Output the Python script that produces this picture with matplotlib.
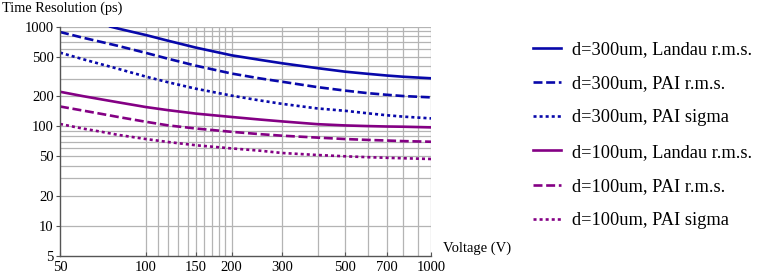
import matplotlib
matplotlib.use("Agg")
import matplotlib.pyplot as plt
from matplotlib.ticker import FixedLocator, NullLocator, NullFormatter

plt.rcParams['font.family'] = ['Liberation Serif', 'DejaVu Serif']

# Voltage values (V)
voltage = [50, 60, 70, 80, 100, 120, 150, 200, 250, 300, 400, 500, 600, 700, 800, 1000]
voltage_d300_landau = [75, 80, 100, 120, 150, 200, 250, 300, 400, 500, 600, 700, 800, 1000]

# Time resolution (ps)
d300_landau = [1000, 955, 823, 720, 615, 515, 465, 429, 383, 353, 336, 323, 314, 303]
d300_pai_rms = [883, 775, 700, 640, 545, 475, 405, 338, 303, 280, 247, 228, 215, 207, 201, 195]
d300_pai_sigma = [548, 472, 418, 377, 315, 276, 238, 203, 182, 168, 151, 143, 135, 129, 125, 120]
d100_landau = [222, 201, 186, 174, 156, 145, 134, 124, 117, 112, 105, 102, 100.5, 99.5, 99, 97.5]
d100_pai_rms = [158, 144, 133, 124, 111, 102, 95, 88, 83.5, 80.5, 77, 74.5, 73, 72, 71, 70]
d100_pai_sigma = [105.5, 95, 88, 82, 74.5, 69.5, 64.5, 60, 57, 54, 51.5, 50, 49, 48.3, 47.8, 47]

labels = ["d=300um, Landau r.m.s.", "d=300um, PAI r.m.s.", "d=300um, PAI sigma",
          "d=100um, Landau r.m.s.", "d=100um, PAI r.m.s.", "d=100um, PAI sigma"]

x_ticks = [50, 100, 150, 200, 300, 500, 700, 1000]
y_ticks = [5, 10, 20, 50, 100, 200, 500, 1000]

blue = '#0808aa'
purple = '#840084'
dash = (0, (3.4, 1.4))
dot = (0, (1.15, 1.15))

fig = plt.figure(figsize=(7.63, 2.77), dpi=100)
ax = fig.add_axes([60 / 763, 1 - 256 / 277, (431 - 60) / 763, (256 - 26.6) / 277])
ax.set_xscale('log')
ax.set_yscale('log')
ax.set_xlim(50, 1000)
ax.set_ylim(5, 1000)

# grid
vgrid = list(range(100, 200, 10)) + list(range(200, 1001, 100))
hgrid = list(range(10, 100, 10)) + list(range(100, 1001, 100))
for v in vgrid:
    ax.axvline(v, color='#b4b4b4', lw=0.9, zorder=0)
for h in hgrid:
    ax.axhline(h, color='#b4b4b4', lw=0.9, zorder=0)

lw = 1.9
ax.plot(voltage_d300_landau, d300_landau, color=blue, lw=lw, ls='-', label=labels[0])
ax.plot(voltage, d300_pai_rms, color=blue, lw=lw, ls=dash, label=labels[1])
ax.plot(voltage, d300_pai_sigma, color=blue, lw=lw, ls=dot, label=labels[2])
ax.plot(voltage, d100_landau, color=purple, lw=lw, ls='-', label=labels[3])
ax.plot(voltage, d100_pai_rms, color=purple, lw=lw, ls=dash, label=labels[4])
ax.plot(voltage, d100_pai_sigma, color=purple, lw=lw, ls=dot, label=labels[5])

for s in ['top', 'right']:
    ax.spines[s].set_visible(False)
for s in ['left', 'bottom']:
    ax.spines[s].set_color('#555555')
    ax.spines[s].set_linewidth(1.0)

ax.xaxis.set_major_locator(FixedLocator(x_ticks))
ax.xaxis.set_minor_locator(NullLocator())
ax.xaxis.set_minor_formatter(NullFormatter())
ax.set_xticklabels([str(t) for t in x_ticks])
ax.yaxis.set_major_locator(FixedLocator(y_ticks))
ax.yaxis.set_minor_locator(NullLocator())
ax.yaxis.set_minor_formatter(NullFormatter())
ax.set_yticklabels([str(t) for t in y_ticks])
ax.tick_params(axis='x', length=3, direction='in', color='#555555', labelsize=10.5, pad=3.5)
ax.tick_params(axis='y', length=3, direction='out', color='#555555', labelsize=10.5, pad=1.5)

fig.text(2 / 763, 1 - 8 / 277, "Time Resolution (ps)", fontsize=10.3, ha='left', va='center')
fig.text(443 / 763, 1 - 248 / 277, "Voltage (V)", fontsize=10.5, ha='left', va='center')

leg = fig.legend(loc='upper left', bbox_to_anchor=(533 / 763, 1 - 41 / 277), frameon=False,
                 fontsize=13.2, handlelength=1.55, handletextpad=0.6, labelspacing=0.94,
                 borderaxespad=0, borderpad=0)

fig.savefig('out.png', dpi=100)
